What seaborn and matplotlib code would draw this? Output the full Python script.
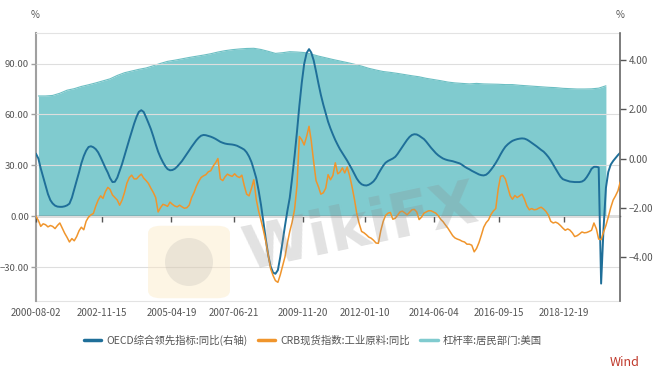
import matplotlib
matplotlib.use("Agg")
import numpy as np
import pandas as pd
import seaborn as sns
import matplotlib.pyplot as plt
from matplotlib.lines import Line2D
from matplotlib.patches import FancyBboxPatch, Ellipse
from matplotlib.ticker import StrMethodFormatter

# | Data |---------------------------------------------------------------------------------------------------------------|
# US household leverage (%), quarterly, Sep 2000 .. Jun 2020 (left axis, area)
leverage = [
    70.9, 70.9,
    71.2, 72.5, 74.3, 75.2,
    76.5, 77.5, 78.6, 79.8,
    81.0, 83.0, 84.6, 85.6,
    86.6, 87.4, 88.7, 90.1,
    91.3, 92.0, 92.8, 93.6,
    94.3, 95.0, 95.8, 96.8,
    97.6, 98.2, 98.6, 98.9,
    99.0, 98.3, 97.2, 96.0,
    96.4, 97.0, 96.8, 96.5,
    95.6, 94.4, 93.4, 92.4,
    91.5, 90.6, 89.6, 88.5,
    87.2, 86.2, 85.3, 84.8,
    84.2, 83.5, 82.8, 82.2,
    81.3, 80.6, 79.9, 79.1,
    78.6, 78.3, 78.0, 78.3,
    78.0, 77.9, 77.8, 77.6,
    77.6, 77.2, 76.9, 76.6,
    76.3, 76.0, 75.8, 75.4,
    75.2, 75.0, 75.0, 75.1,
    75.5, 76.9,
]

# OECD composite leading indicator, yoy (%), monthly Aug 2000 .. Dec 2020 (right axis)
oecd_yoy = [
    0.20, 0.00, -0.40, -0.75, -1.10,
    -1.45, -1.70, -1.83, -1.92, -1.96, -1.97, -1.97, -1.95, -1.91, -1.84, -1.60, -1.25,
    -0.90, -0.55, -0.20, 0.10, 0.32, 0.47, 0.50, 0.46, 0.38, 0.25, 0.05, -0.16,
    -0.38, -0.58, -0.80, -0.96, -0.95, -0.78, -0.50, -0.22, 0.12, 0.45, 0.78, 1.10,
    1.42, 1.70, 1.90, 1.97, 1.90, 1.68, 1.45, 1.20, 0.90, 0.58, 0.28, 0.05,
    -0.15, -0.32, -0.43, -0.48, -0.47, -0.42, -0.33, -0.22, -0.10, 0.04, 0.18, 0.33,
    0.48, 0.62, 0.74, 0.85, 0.93, 0.96, 0.95, 0.92, 0.89, 0.85, 0.80, 0.74,
    0.68, 0.64, 0.61, 0.59, 0.58, 0.57, 0.55, 0.52, 0.47, 0.42, 0.36, 0.25,
    0.08, -0.15, -0.45, -0.80, -1.30, -1.90, -2.60, -3.30, -3.95, -4.40, -4.65, -4.70,
    -4.55, -4.00, -3.40, -2.75, -2.15, -1.60, -0.80, 0.10, 1.10, 2.15, 3.10, 3.85,
    4.30, 4.46, 4.32, 4.00, 3.55, 3.05, 2.60, 2.20, 1.85, 1.50, 1.22, 0.98,
    0.75, 0.55, 0.38, 0.22, 0.07, -0.09, -0.26, -0.44, -0.63, -0.82, -0.96, -1.05,
    -1.09, -1.10, -1.07, -1.01, -0.93, -0.80, -0.62, -0.45, -0.29, -0.17, -0.10, -0.05,
    0.00, 0.07, 0.18, 0.33, 0.48, 0.62, 0.76, 0.88, 0.96, 0.99, 0.98, 0.93,
    0.86, 0.79, 0.69, 0.56, 0.44, 0.33, 0.22, 0.13, 0.06, 0.00, -0.04, -0.07,
    -0.09, -0.11, -0.14, -0.17, -0.20, -0.26, -0.33, -0.39, -0.44, -0.50, -0.55, -0.60,
    -0.65, -0.68, -0.69, -0.66, -0.58, -0.46, -0.33, -0.18, -0.01, 0.17, 0.34, 0.48,
    0.58, 0.66, 0.72, 0.76, 0.79, 0.81, 0.82, 0.81, 0.77, 0.71, 0.64, 0.57,
    0.50, 0.42, 0.35, 0.28, 0.18, 0.06, -0.08, -0.25, -0.42, -0.58, -0.74, -0.84,
    -0.88, -0.91, -0.94, -0.95, -0.96, -0.96, -0.96, -0.94, -0.88, -0.76, -0.60, -0.42,
    -0.34, -0.34, -0.36, -5.10, -2.90, -1.20, -0.55, -0.25, -0.10, 0.02, 0.14, 0.24,
]

# CRB spot index: industrials, yoy (%), monthly Aug 2000 .. Dec 2020 (left axis)
crb_yoy = [
    0.0, -2.5, -6.0, -4.5, -5.0,
    -6.3, -5.5, -6.0, -7.3, -5.5, -4.0, -7.0, -10.0, -12.5, -15.2, -13.2, -14.5,
    -12.0, -8.5, -6.5, -8.0, -3.0, -0.5, 0.8, 1.6, 6.0, 9.5, 12.0, 10.5,
    14.5, 17.0, 15.8, 12.5, 11.0, 9.5, 6.5, 9.5, 14.0, 19.5, 22.8, 24.2,
    22.0, 22.0, 23.5, 24.8, 22.5, 21.0, 19.3, 16.5, 14.0, 11.0, 2.5, 5.0,
    7.0, 6.5, 5.8, 8.3, 7.0, 6.0, 5.5, 6.5, 5.5, 4.7, 5.0, 6.5,
    11.0, 14.0, 17.5, 20.5, 22.8, 23.8, 24.5, 26.2, 26.8, 29.5, 31.5, 34.0,
    22.0, 21.0, 23.2, 24.8, 24.0, 23.5, 25.0, 23.5, 22.8, 24.2, 18.0, 13.0,
    12.0, 16.5, 21.5, 10.0, 3.0, -2.5, -8.3, -15.0, -23.0, -31.0, -35.0, -38.0,
    -39.0, -34.5, -29.5, -24.0, -16.0, -9.0, -3.5, 4.0, 18.0, 47.0, 45.0, 42.0,
    47.0, 53.0, 44.5, 32.0, 21.0, 17.3, 13.0, 13.8, 16.5, 24.5, 21.5, 24.0,
    31.5, 25.0, 26.0, 28.5, 25.5, 29.0, 24.0, 17.5, 10.0, 1.5, -4.5, -9.0,
    -9.8, -11.0, -12.3, -13.0, -14.2, -15.8, -16.0, -8.5, -3.0, 0.5, 1.8, 2.2,
    -1.8, -1.2, 0.5, 2.5, 3.0, 2.0, 0.8, 2.3, 3.8, 4.0, 2.5, -2.0,
    -0.5, 1.8, 2.5, 3.2, 3.2, 2.5, 1.8, 0.3, -1.8, -3.2, -5.2, -7.0,
    -9.3, -11.5, -12.8, -13.5, -14.0, -14.8, -15.2, -16.5, -16.5, -17.1, -21.0, -19.0,
    -15.5, -11.0, -6.5, -3.8, -2.2, 1.0, 3.0, 4.5, 16.0, 23.5, 24.0, 22.0,
    17.0, 12.0, 10.0, 12.2, 11.0, 12.0, 13.0, 10.0, 6.0, 3.8, 4.5, 3.8,
    4.0, 4.8, 5.3, 4.2, 2.8, 0.6, -3.0, -4.0, -3.5, -4.2, -5.5, -7.0,
    -8.3, -7.5, -8.2, -9.8, -12.0, -11.5, -10.5, -9.3, -9.8, -9.6, -9.0, -8.3,
    -4.0, -7.5, -13.5, -13.8, -9.5, -5.5, -0.5, 5.0, 9.5, 12.0, 15.0, 20.3,
]

x_tick_labels = ["2000-08-02", "2002-11-15", "2005-04-19", "2007-06-21", "2009-11-20",
                 "2012-01-10", "2014-06-04", "2016-09-15", "2018-12-19"]
left_ticks = [-30, 0, 30, 60, 90]
right_ticks = [-4, -2, 0, 2, 4]
series_names = ["OECD综合领先指标:同比(右轴)", "CRB现货指数:工业原料:同比", "杠杆率:居民部门:美国"]
# |--------------------------------------------------------------------------------------------------------------------|

C_AREA = "#80cbcf"
C_BLUE = "#1f6f99"
C_ORANGE = "#f0952c"
C_TEXT = "#555555"

sns.set_style("white")
plt.rcParams["font.family"] = ["Noto Sans CJK SC", "DejaVu Sans"]

months = pd.date_range("2000-08-01", periods=len(oecd_yoy), freq="MS")
quarters = pd.date_range("2000-09-01", periods=len(leverage), freq="QS-DEC")
tick_pos = pd.to_datetime(x_tick_labels)

fig = plt.figure(figsize=(6.58, 3.76), dpi=100)
ax = fig.add_axes([36 / 658, 1 - 301 / 376, 584 / 658, (301 - 32.7) / 376])

# area on the left scale
ax.fill_between(quarters, leverage, 0, color=C_AREA, lw=0, zorder=1)
sns.lineplot(x=quarters, y=leverage, ax=ax, color="#6cbfc3", lw=0.8, zorder=1.5)

# OECD on the right scale, CRB on top again on the left scale
ax_r = ax.twinx()
sns.lineplot(x=months, y=oecd_yoy, ax=ax_r, color=C_BLUE, lw=1.4)
ax_o = ax.twinx()
sns.lineplot(x=months, y=crb_yoy, ax=ax_o, color=C_ORANGE, lw=1.1)

ax.set_xlim(pd.Timestamp("2000-08-02"), pd.Timestamp("2020-11-27"))
ax.set_ylim(-50, 108.2)
ax_o.set_ylim(-50, 108.2)
ax_r.set_ylim(-5.81, 5.13)
for a in (ax, ax_r, ax_o):
    a.set_xlabel("")
    a.set_ylabel("")

# left axis
ax.set_yticks(left_ticks)
ax.yaxis.set_major_formatter(StrMethodFormatter("{x:.2f}"))
ax.tick_params(axis="y", left=True, length=3.5, width=1, color="#a0a0a0",
               labelsize=6.8, labelcolor=C_TEXT, pad=1.5)
ax.yaxis.grid(True, color="#dedede", lw=0.8)
ax.set_axisbelow(False)

# x axis: ticks on the zero line, labels at the bottom
ax.set_xticks(tick_pos)
ax.spines["bottom"].set_position(("data", 0))
ax.spines["bottom"].set_color(C_TEXT)
ax.spines["bottom"].set_linewidth(1)
ax.tick_params(axis="x", bottom=True, length=4, width=1, color=C_TEXT, labelbottom=False)
secax = ax.secondary_xaxis("bottom")
secax.set_xticks(ax.get_xticks(), labels=x_tick_labels)
secax.tick_params(length=0, pad=5, labelsize=7, labelcolor=C_TEXT)
secax.spines["bottom"].set_color("#e3e3e3")
secax.spines["bottom"].set_linewidth(0.8)

ax.spines["left"].set_color("#a0a0a0")
ax.spines["left"].set_linewidth(1.5)
ax.spines["top"].set_color("#e3e3e3")
ax.spines["top"].set_linewidth(0.8)
ax.spines["right"].set_visible(False)

# right axis
ax_r.set_yticks(right_ticks)
ax_r.yaxis.set_major_formatter(StrMethodFormatter("{x:.2f}"))
ax_r.tick_params(axis="y", right=True, length=4, width=1, color=C_TEXT,
                 labelsize=7, labelcolor=C_TEXT, pad=2)
for s in ("left", "top", "bottom"):
    ax_r.spines[s].set_visible(False)
ax_r.spines["right"].set_color("#666666")
ax_r.spines["right"].set_linewidth(1.2)

ax_o.yaxis.set_visible(False)
for s in ax_o.spines.values():
    s.set_visible(False)

fig.text(35 / 658, 1 - 15 / 376, "%", fontsize=7, color=C_TEXT, ha="center", va="center")
fig.text(620 / 658, 1 - 15 / 376, "%", fontsize=7, color=C_TEXT, ha="center", va="center")

handles = [Line2D([], [], color=C_BLUE, lw=2.5),
           Line2D([], [], color=C_ORANGE, lw=2.5),
           Line2D([], [], color=C_AREA, lw=2.5)]
fig.legend(handles, series_names, loc="center", bbox_to_anchor=(0.475, 1 - 340 / 376), ncol=3,
           frameon=False, fontsize=7.5, labelcolor=C_TEXT, handlelength=1.7,
           handletextpad=0.45, columnspacing=1.0)

fig.text(625 / 658, 1 - 362 / 376, "Wind", fontsize=9, color="#c0392b", ha="center", va="center")

# watermark
fig.patches.append(FancyBboxPatch((152 / 658, 1 - 296 / 376), 74 / 658, 68 / 376,
                                  boxstyle="round,pad=0.006,rounding_size=0.02",
                                  transform=fig.transFigure, color="#fbe9c4", alpha=0.45, lw=0))
fig.patches.append(Ellipse((189 / 658, 1 - 262 / 376), 48 / 658, 48 / 376,
                           transform=fig.transFigure, color="#9a9a9a", alpha=0.18, lw=0))
fig.text(0.548, 0.39, "WikiFX", fontsize=44, fontweight="bold", family="DejaVu Sans",
         color="#8c8c8c", alpha=0.25, rotation=12, ha="center", va="center")

fig.savefig("out.png", dpi=100, facecolor="white")
